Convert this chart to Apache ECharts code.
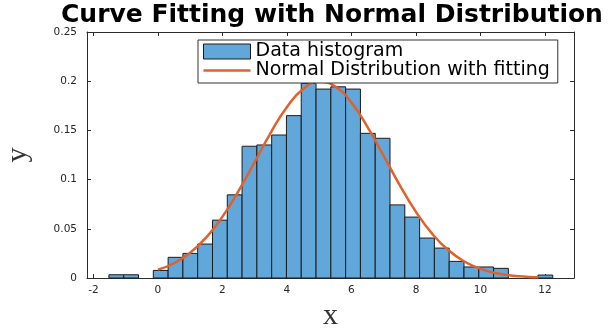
<!DOCTYPE html>
<html>
<head>
<meta charset="utf-8">
<script src="https://cdn.jsdelivr.net/npm/echarts@6/dist/echarts.min.js"></script>
<style>html,body{margin:0;padding:0;background:#fff}#c{width:608px;height:328px}</style>
</head>
<body>
<div id="c"></div>
<script>
// Histogram bin edges (31 edges -> 30 bins)
var binEdges = [-1.520, -1.061, -0.603, -0.144, 0.315, 0.774, 1.232, 1.691, 2.150, 2.608,
  3.067, 3.526, 3.984, 4.443, 4.902, 5.361, 5.819, 6.278, 6.737, 7.195,
  7.654, 8.113, 8.571, 9.030, 9.489, 9.948, 10.406, 10.865, 11.324, 11.782, 12.241];
// Histogram heights (probability density)
var binHeights = [0.0033, 0.0033, 0, 0.0077, 0.021, 0.025, 0.0345, 0.0588, 0.0845, 0.1339,
  0.1352, 0.1453, 0.165, 0.1978, 0.192, 0.1943, 0.192, 0.147, 0.142, 0.0743,
  0.0619, 0.0406, 0.0304, 0.0169, 0.0112, 0.0112, 0.0098, 0, 0, 0.0030];
// Fitted curve points
var curveX = [0, 0.5, 1, 1.5, 2, 2.5, 3, 3.5, 4, 4.5, 5, 5.5, 6, 6.5, 7, 7.5, 8, 8.5, 9, 9.5, 10, 10.5, 11, 11.5, 11.8];
var curveY = [0.0085, 0.0150, 0.0257, 0.0413, 0.0624, 0.0885, 0.118, 0.1478, 0.1738, 0.1921, 0.1995, 0.1945, 0.1782, 0.1534, 0.1240, 0.0942, 0.0672, 0.0451, 0.0284, 0.0168, 0.0093, 0.0049, 0.0024, 0.0011, 0.0007];
var xTicks = [-2, 0, 2, 4, 6, 8, 10, 12];
var yTicks = [0, 0.05, 0.1, 0.15, 0.2, 0.25];

var histData = [];
for (var i = 0; i < binHeights.length; i++) histData.push([binEdges[i], binEdges[i + 1], binHeights[i]]);
var lineData = curveX.map(function (x, i) { return [x, curveY[i]]; });

var barFill = '#62a7d9', barEdge = '#1c1c1c', curveColor = '#e2612b';
var axisCol = '#2b2b2b';
var XMIN = -2.2, XMAX = 12.9;
var sansWide = '"DejaVu Sans", Verdana, sans-serif';

var chart = echarts.init(document.getElementById('c'), null, {renderer: 'canvas'});
var tickLbl = {color: '#262626', fontSize: 10.5, fontFamily: sansWide};
chart.setOption({
  animation: false,
  title: {
    text: 'Curve Fitting with Normal Distribution',
    left: 56, top: -2,
    textStyle: {fontSize: 25, fontWeight: 'bold', color: '#000', fontFamily: sansWide}
  },
  legend: {
    orient: 'vertical', left: 198, top: 40,
    padding: [2, 8, 3, 5], itemGap: 0,
    itemWidth: 47, itemHeight: 15,
    borderColor: '#333', borderWidth: 1, backgroundColor: '#fff',
    textStyle: {fontSize: 19, color: '#000', fontFamily: sansWide},
    data: [
      {name: 'Data histogram', icon: 'rect', itemStyle: {color: barFill, borderColor: barEdge, borderWidth: 1}},
      {name: 'Normal Distribution with fitting',
       icon: 'path://M0,0h0.01v0.01h-0.01z M46.99,14.99h0.01v0.01h-0.01z M0,6.3h47v2.4h-47z',
       itemStyle: {color: curveColor, borderWidth: 0}}
    ]
  },
  grid: {left: 87, right: 34, top: 32, bottom: 50, containLabel: false, outerBoundsMode: 'none'},
  xAxis: [{
    type: 'value', min: XMIN, max: XMAX, position: 'bottom',
    name: 'x', nameLocation: 'middle', nameGap: 22,
    nameTextStyle: {fontSize: 30, fontFamily: '"Liberation Serif", "Times New Roman", serif', color: '#333'},
    axisLine: {show: true, onZero: false, lineStyle: {color: axisCol, width: 1}},
    axisTick: {show: true, inside: true, length: 4, customValues: xTicks, lineStyle: {color: axisCol}},
    axisLabel: Object.assign({customValues: xTicks, margin: 7}, tickLbl),
    splitLine: {show: false}
  }, {
    type: 'value', min: XMIN, max: XMAX, position: 'top',
    axisLine: {show: true, onZero: false, lineStyle: {color: axisCol, width: 1}},
    axisTick: {show: true, inside: true, length: 4, customValues: xTicks, lineStyle: {color: axisCol}},
    axisLabel: {show: false}, splitLine: {show: false}
  }],
  yAxis: [{
    type: 'value', min: 0, max: 0.25, interval: 0.05, position: 'left',
    name: 'y', nameLocation: 'middle', nameGap: 54, nameRotate: 90,
    nameTextStyle: {fontSize: 30, fontFamily: '"Liberation Serif", "Times New Roman", serif', color: '#333'},
    axisLine: {show: true, onZero: false, lineStyle: {color: axisCol, width: 1}},
    axisTick: {show: true, inside: true, length: 4, lineStyle: {color: axisCol}},
    axisLabel: Object.assign({margin: 10, customValues: yTicks}, tickLbl),
    splitLine: {show: false}
  }, {
    type: 'value', min: 0, max: 0.25, interval: 0.05, position: 'right',
    axisLine: {show: true, onZero: false, lineStyle: {color: axisCol, width: 1}},
    axisTick: {show: true, inside: true, length: 4, lineStyle: {color: axisCol}},
    axisLabel: {show: false}, splitLine: {show: false}
  }],
  series: [{
    name: 'Data histogram', type: 'custom', xAxisIndex: 0, yAxisIndex: 0,
    itemStyle: {color: barFill, borderColor: barEdge},
    encode: {x: [0, 1], y: 2},
    data: histData,
    renderItem: function (params, api) {
      var h = api.value(2);
      if (!h) return null;
      var p0 = api.coord([api.value(0), h]);
      var p1 = api.coord([api.value(1), 0]);
      return {
        type: 'rect',
        shape: {x: p0[0], y: p0[1], width: p1[0] - p0[0], height: p1[1] - p0[1]},
        style: {fill: barFill, stroke: barEdge, lineWidth: 1}
      };
    },
    z: 2
  }, {
    name: 'Normal Distribution with fitting', type: 'line', xAxisIndex: 0, yAxisIndex: 0,
    data: lineData, smooth: true, symbol: 'none',
    lineStyle: {color: curveColor, width: 2.5}, itemStyle: {color: curveColor},
    z: 3
  }]
});
</script>
</body>
</html>
